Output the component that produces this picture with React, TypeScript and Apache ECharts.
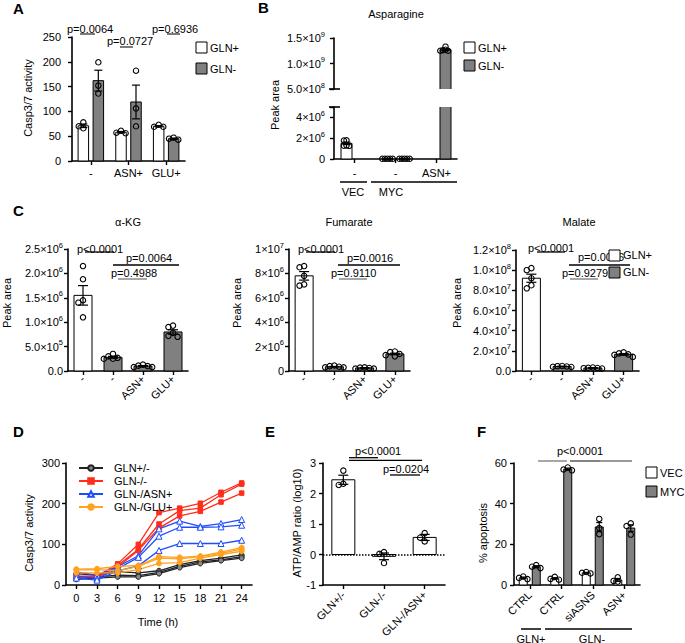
import React, { useEffect, useRef } from "react";
import * as echarts from "echarts";

const FONT = "'Liberation Sans', Arial, Helvetica, sans-serif";
const GREY = "#808080";
const WHITE = "#ffffff";

// ---------- Panel A ----------
const aCategories = ["-", "ASN+", "GLU+"];
const aGlnPlusMean = [71, 58, 70];
const aGlnPlusSem = [3.5, 1.5, 1.3];
const aGlnPlusDots = [[78, 70, 66], [61, 57, 56], [73, 69, 69]];
const aGlnMinusMean = [162, 119, 45];
const aGlnMinusSem = [21, 34, 1.3];
const aGlnMinusDots = [[199, 152, 136], [182, 106, 70], [47, 45, 43]];

// ---------- Panel B ----------
const bCategories = ["-", "-", "ASN+"];
const bGlnPlusMean = [1.5e6, 0.02e6, null];
const bGlnPlusSem = [0.12e6, 0.004e6, null];
const bGlnPlusDots = [[1.8e6, 1.78e6, 1.3e6, 1.25e6, 1.27e6], [0.02e6, 0.02e6, 0.02e6, 0.02e6, 0.02e6], []];
const bGlnMinusMean = [null, 0.02e6, 1.27e9];
const bGlnMinusSem = [null, 0.004e6, 0.015e9];
const bGlnMinusDots = [[], [0.02e6, 0.02e6, 0.02e6, 0.02e6, 0.02e6], [1.33e9, 1.27e9, 1.26e9, 1.25e9, 1.25e9]];

// ---------- Panel C ----------
const cCategories = ["-", "-", "ASN+", "GLU+"];
const cGroups = ["GLN+", "GLN-", "GLN-", "GLN-"];
const akgMean = [1.55e6, 0.28e6, 0.1e6, 0.8e6];
const akgSem = [0.2e6, 0.02e6, 0.012e6, 0.045e6];
const akgDots = [
  [2.15e6, 1.88e6, 1.45e6, 1.4e6, 1.1e6],
  [0.35e6, 0.3e6, 0.27e6, 0.25e6, 0.25e6],
  [0.13e6, 0.11e6, 0.1e6, 0.08e6, 0.08e6],
  [0.93e6, 0.9e6, 0.78e6, 0.72e6, 0.7e6],
];
const fumMean = [7.8e6, 0.35e6, 0.25e6, 1.4e6];
const fumSem = [0.35e6, 0.025e6, 0.025e6, 0.06e6];
const fumDots = [
  [8.6e6, 8.5e6, 7.8e6, 7.1e6, 7.0e6],
  [0.45e6, 0.4e6, 0.35e6, 0.3e6, 0.3e6],
  [0.3e6, 0.28e6, 0.25e6, 0.2e6, 0.2e6],
  [1.6e6, 1.55e6, 1.4e6, 1.3e6, 1.2e6],
];
const malMean = [9.2e7, 0.45e7, 0.3e7, 1.65e7];
const malSem = [0.4e7, 0.03e7, 0.03e7, 0.08e7];
const malDots = [
  [10.2e7, 10.0e7, 9.2e7, 8.5e7, 8.2e7],
  [0.5e7, 0.48e7, 0.45e7, 0.42e7, 0.4e7],
  [0.35e7, 0.32e7, 0.3e7, 0.28e7, 0.25e7],
  [1.85e7, 1.75e7, 1.65e7, 1.6e7, 1.4e7],
];

// ---------- Panel D ----------
const dTimes = ["0", "3", "6", "9", "12", "15", "18", "21", "24"];
const dNames = ["GLN+/-", "GLN-/-", "GLN-/ASN+", "GLN-/GLU+"];
const dGlnPlusMinus = [
  [28, 24, 33, 30, 35, 50, 60, 66, 74],
  [18, 20, 24, 23, 31, 46, 57, 62, 70],
  [14, 17, 20, 20, 28, 43, 53, 60, 66],
];
const dGlnMinusMinus = [
  [22, 22, 52, 100, 178, 189, 201, 228, 251],
  [20, 20, 48, 88, 150, 183, 189, 222, 248],
  [18, 19, 44, 85, 140, 170, 181, 204, 226],
];
const dGlnMinusAsn = [
  [32, 24, 45, 72, 138, 157, 144, 151, 161],
  [22, 16, 40, 68, 120, 142, 142, 143, 147],
  [17, 12, 35, 47, 85, 102, 102, 102, 110],
];
const dGlnMinusGlu = [
  [39, 40, 46, 48, 70, 68, 71, 81, 92],
  [37, 38, 35, 46, 66, 64, 70, 78, 88],
  [30, 30, 30, 38, 53, 55, 66, 75, 83],
];

// ---------- Panel E ----------
const eCategories = ["GLN+/-", "GLN-/-", "GLN-/ASN+"];
const eMean = [2.45, -0.06, 0.56];
const eSem = [0.15, 0.11, 0.1];
const eDots = [[2.75, 2.32, 2.28], [0.08, 0.02, -0.28], [0.7, 0.55, 0.43]];

// ---------- Panel F ----------
const fCategories = ["CTRL", "CTRL", "siASNS", "ASN+"];
const fVecMean = [3.5, 3.2, 6.0, 2.5];
const fVecSem = [0.4, 0.4, 0.2, 0.7];
const fVecDots = [[4.2, 3.5, 2.9], [4.0, 3.0, 2.6], [6.4, 6.0, 5.7], [3.8, 2.0, 1.7]];
const fMycMean = [9.0, 57.0, 28.5, 28.0];
const fMycSem = [0.5, 0.5, 2.2, 1.6];
const fMycDots = [[9.8, 9.0, 8.3], [57.8, 56.8, 56.4], [32.5, 28.0, 25.0], [30.3, 29.0, 24.8]];

// ---------- helpers ----------
function sci(v: number, digits: number, zero: string) {
  if (v === 0) return zero;
  const e = Math.floor(Math.log10(v) + 1e-9);
  const m = v / Math.pow(10, e);
  return `{b|${m.toFixed(digits)}×10}{s|${e}}`;
}
const richSci = {
  b: { fontSize: 11, lineHeight: 16, color: "#000", fontFamily: FONT },
  s: { fontSize: 7.5, lineHeight: 9, verticalAlign: "top", color: "#000", fontFamily: FONT },
};

function barSeries(name: string, gi: number, means: any[], sems: any[], dots: number[][], colors: string[], cfg: any) {
  const items: any[] = [];
  for (let i = 0; i < means.length; i++) {
    if (means[i] === null || means[i] === undefined) continue;
    items.push({ cat: i, mean: means[i], sem: sems[i] || 0, dots: dots[i] || [], color: colors[i] });
  }
  return {
    type: "custom",
    name,
    xAxisIndex: gi,
    yAxisIndex: gi,
    silent: true,
    z: 3,
    data: items.map((it) => [it.cat, it.mean, it.sem]),
    renderItem: (params: any, api: any) => {
      const it = items[params.dataIndex];
      const cs = params.coordSys;
      const top = cs.y;
      const bot = cs.y + cs.height;
      const clamp = (y: number) => Math.max(top, Math.min(bot, y));
      const inR = (y: number) => y >= top - 0.5 && y <= bot + 0.5;
      const base = api.coord([it.cat, 0]);
      const cx = base[0] + cfg.offset;
      const hw = cfg.width / 2;
      const ybRaw = base[1];
      const ymRaw = api.coord([it.cat, it.mean])[1];
      const yb = clamp(ybRaw);
      const ym = clamp(ymRaw);
      const children: any[] = [];
      const ln = (x1: number, y1: number, x2: number, y2: number, w = 1) => ({
        type: "line",
        shape: { x1, y1, x2, y2 },
        style: { stroke: "#000", lineWidth: w },
      });
      if (Math.abs(yb - ym) > 0.2 || inR(ymRaw)) {
        const y1 = Math.min(yb, ym);
        const y2 = Math.max(yb, ym);
        children.push({
          type: "rect",
          shape: { x: cx - hw, y: y1, width: cfg.width, height: y2 - y1 },
          style: { fill: it.color },
        });
        children.push(ln(cx - hw, y1, cx - hw, y2));
        children.push(ln(cx + hw, y1, cx + hw, y2));
        if (inR(ymRaw)) children.push(ln(cx - hw, ym, cx + hw, ym));
        if (inR(ybRaw)) children.push(ln(cx - hw, yb, cx + hw, yb));
      }
      if (it.sem > 0) {
        const yHi = api.coord([it.cat, it.mean + it.sem])[1];
        const yLo = api.coord([it.cat, it.mean - it.sem])[1];
        if (yHi >= top - 1 && yLo <= bot + 1) {
          const c = cfg.cap / 2;
          children.push(ln(cx, yHi, cx, yLo, 1.2));
          children.push(ln(cx - c, yHi, cx + c, yHi, 1.2));
          children.push(ln(cx - c, yLo, cx + c, yLo, 1.2));
        }
      }
      const r = 2.7;
      const placed: number[][] = [];
      const order = it.dots.map((_: number, i: number) => i).sort((a: number, b: number) => it.dots[b] - it.dots[a]);
      for (const i of order) {
        const y = api.coord([it.cat, it.dots[i]])[1];
        if (y < top - 4 || y > bot + 4) continue;
        let x = cx;
        for (let k = 0; k < 14; k++) {
          const m = k === 0 ? 0 : k % 2 === 1 ? -Math.ceil(k / 2) : Math.ceil(k / 2);
          const cand = cx + m * cfg.swarm;
          if (placed.every((p) => Math.hypot(p[0] - cand, p[1] - y) >= cfg.swarm - 0.01)) {
            x = cand;
            break;
          }
        }
        placed.push([x, y]);
        children.push({
          type: "circle",
          shape: { cx: x, cy: y, r },
          style: { fill: "rgba(255,255,255,0)", stroke: "#000", lineWidth: 1.1 },
        });
      }
      return { type: "group", children };
    },
  };
}

const axisLine = { show: true, onZero: false, lineStyle: { color: "#000", width: 1.6 } };
const axisTick = { show: true, length: 4, lineStyle: { color: "#000", width: 1.4 } };

function xCat(gi: number, data: string[], extra: any = {}) {
  return {
    type: "category",
    gridIndex: gi,
    data,
    axisLine,
    axisTick: { ...axisTick, alignWithLabel: true },
    axisLabel: { color: "#000", fontSize: 11, fontFamily: FONT, margin: extra.margin ?? 6, rotate: extra.rotate ?? 0, interval: 0 },
    splitLine: { show: false },
    boundaryGap: true,
    show: extra.show ?? true,
  };
}
function yVal(gi: number, min: number, max: number, interval: number, margin: number, formatter?: any) {
  return {
    type: "value",
    gridIndex: gi,
    min,
    max,
    interval,
    axisLine,
    axisTick,
    axisLabel: { color: "#000", fontSize: 11, fontFamily: FONT, margin, formatter, rich: richSci },
    splitLine: { show: false },
  };
}

const T = (x: number, y: number, text: string, o: any = {}) => ({
  type: "text",
  x,
  y,
  rotation: o.rot || 0,
  silent: true,
  z: 10,
  style: {
    text,
    fill: "#000",
    fontSize: o.size || 11,
    fontFamily: FONT,
    fontWeight: o.bold ? "bold" : "normal",
    align: o.align || "left",
    verticalAlign: "middle",
  },
});
const L = (x1: number, y1: number, x2: number, y2: number, color = "#000", w = 1.3) => ({
  type: "line",
  silent: true,
  z: 10,
  shape: { x1, y1, x2, y2 },
  style: { stroke: color, lineWidth: w },
});
const R = (x: number, y: number, fill: string) => ({
  type: "rect",
  silent: true,
  z: 10,
  shape: { x, y, width: 11, height: 11 },
  style: { fill, stroke: "#000", lineWidth: 1 },
});

const SIG_DARK = "#333";
const SIG_GREY = "#777";

export default function App() {
  const ref = useRef<HTMLDivElement>(null);
  useEffect(() => {
    if (!ref.current) return;
    const chart = echarts.init(ref.current, undefined, { renderer: "svg" });
    const cColors = cGroups.map((g) => (g === "GLN+" ? WHITE : GREY));
    const dStyles = [
      { data: dGlnPlusMinus, color: "#222", symbol: "circle", size: 5, fill: "#888" },
      { data: dGlnMinusMinus, color: "#ff2d1a", symbol: "rect", size: 4.5, fill: "#ff2d1a" },
      { data: dGlnMinusAsn, color: "#1f4bff", symbol: "triangle", size: 6, fill: "#ffffff" },
      { data: dGlnMinusGlu, color: "#ffa21f", symbol: "circle", size: 5, fill: "#ffa21f" },
    ];
    const dSeries: any[] = [];
    dStyles.forEach((s, gi) => {
      s.data.forEach((row) => {
        dSeries.push({
          type: "line",
          name: dNames[gi],
          xAxisIndex: 6,
          yAxisIndex: 6,
          data: row,
          symbol: s.symbol,
          symbolSize: s.size,
          showSymbol: true,
          lineStyle: { color: s.color, width: 1.3 },
          itemStyle: { color: s.fill, borderColor: s.color, borderWidth: 1 },
          silent: true,
          z: 2,
        });
      });
    });

    const option: any = {
      animation: false,
      backgroundColor: "#ffffff",
      textStyle: { fontFamily: FONT },
      grid: [
        { left: 72, top: 37, width: 113, height: 124 },
        { left: 334, top: 38, width: 123, height: 51 },
        { left: 334, top: 107, width: 123, height: 52 },
        { left: 68, top: 249, width: 120, height: 122 },
        { left: 289, top: 249, width: 121, height: 122 },
        { left: 516, top: 250, width: 123, height: 121 },
        { left: 66, top: 463, width: 186, height: 122 },
        { left: 323, top: 463, width: 122, height: 122 },
        { left: 514, top: 463, width: 126, height: 122 },
      ],
      xAxis: [
        xCat(0, aCategories, { margin: 6 }),
        xCat(1, bCategories, { show: false }),
        xCat(2, bCategories, { margin: 8 }),
        xCat(3, cCategories, { rotate: 45, margin: 6 }),
        xCat(4, cCategories, { rotate: 45, margin: 6 }),
        xCat(5, cCategories, { rotate: 45, margin: 6 }),
        xCat(6, dTimes, { margin: 7 }),
        xCat(7, eCategories, { rotate: 45, margin: 8 }),
        xCat(8, fCategories, { rotate: 45, margin: 8 }),
      ],
      yAxis: [
        yVal(0, 0, 250, 50, 11),
        yVal(1, 5e8, 1.5e9, 5e8, 9, (v: number) => sci(v, 1, "0")),
        yVal(2, 0, 5e6, 2e6, 9, (v: number) => (v === 0 ? "0" : v % 2e6 === 0 ? sci(v, 0, "0") : "")),
        yVal(3, 0, 2.5e6, 5e5, 5, (v: number) => sci(v, 1, "0.0")),
        yVal(4, 0, 1e7, 2e6, 5, (v: number) => sci(v, 0, "0")),
        yVal(5, 0, 1.2e8, 2e7, 5, (v: number) => sci(v, 1, "0.0")),
        yVal(6, 0, 300, 100, 6),
        yVal(7, -1, 3, 1, 7),
        yVal(8, 0, 60, 20, 7),
      ],
      legend: [
        {
          data: dNames,
          orient: "vertical",
          left: 73,
          top: 457,
          itemWidth: 24,
          itemHeight: 7,
          itemGap: 1,
          textStyle: { fontSize: 11, fontFamily: FONT, color: "#000", lineHeight: 12, padding: [0, 0, 0, 6] },
          selectedMode: false,
        },
      ],
      series: [
        barSeries("GLN+", 0, aGlnPlusMean, aGlnPlusSem, aGlnPlusDots, [WHITE, WHITE, WHITE], { offset: -7.5, width: 10.5, cap: 8, swarm: 4.6 }),
        barSeries("GLN-", 0, aGlnMinusMean, aGlnMinusSem, aGlnMinusDots, [GREY, GREY, GREY], { offset: 7.5, width: 10.5, cap: 8, swarm: 4.6 }),
        barSeries("GLN+", 1, bGlnPlusMean, bGlnPlusSem, bGlnPlusDots, [WHITE, WHITE, WHITE], { offset: -8, width: 11, cap: 8, swarm: 2.6 }),
        barSeries("GLN-", 1, bGlnMinusMean, bGlnMinusSem, bGlnMinusDots, [GREY, GREY, GREY], { offset: 9, width: 11, cap: 8, swarm: 2.6 }),
        barSeries("GLN+", 2, bGlnPlusMean, bGlnPlusSem, bGlnPlusDots, [WHITE, WHITE, WHITE], { offset: -8, width: 11, cap: 8, swarm: 2.6 }),
        barSeries("GLN-", 2, bGlnMinusMean, bGlnMinusSem, bGlnMinusDots, [GREY, GREY, GREY], { offset: 9, width: 11, cap: 8, swarm: 2.6 }),
        barSeries("α-KG", 3, akgMean, akgSem, akgDots, cColors, { offset: 0, width: 18, cap: 10, swarm: 4.6 }),
        barSeries("Fumarate", 4, fumMean, fumSem, fumDots, cColors, { offset: 0, width: 18, cap: 10, swarm: 4.6 }),
        barSeries("Malate", 5, malMean, malSem, malDots, cColors, { offset: 0, width: 18, cap: 10, swarm: 4.6 }),
        ...dSeries,
        barSeries("ATP/AMP", 7, eMean, eSem, eDots, [WHITE, WHITE, WHITE], { offset: 0, width: 23, cap: 10, swarm: 4.6 }),
        {
          type: "line",
          name: "zero",
          xAxisIndex: 7,
          yAxisIndex: 7,
          data: [],
          silent: true,
          markLine: {
            silent: true,
            symbol: ["none", "none"],
            label: { show: false },
            lineStyle: { type: "dotted", color: "#000", width: 1.5 },
            data: [{ yAxis: 0 }],
          },
        },
        barSeries("VEC", 8, fVecMean, fVecSem, fVecDots, [WHITE, WHITE, WHITE, WHITE], { offset: -6.5, width: 8, cap: 6, swarm: 4.2 }),
        barSeries("MYC", 8, fMycMean, fMycSem, fMycDots, [GREY, GREY, GREY, GREY], { offset: 6.5, width: 8, cap: 6, swarm: 4.2 }),
      ],
      graphic: [
        // panel letters
        T(13, 8, "A", { size: 15, bold: true }),
        T(258, 7, "B", { size: 15, bold: true }),
        T(13, 210, "C", { size: 15, bold: true }),
        T(13, 431, "D", { size: 15, bold: true }),
        T(265, 431, "E", { size: 15, bold: true }),
        T(477, 431, "F", { size: 15, bold: true }),
        // titles
        T(396, 14, "Asparagine", { align: "center" }),
        T(128, 222, "α-KG", { align: "center" }),
        T(349, 222, "Fumarate", { align: "center" }),
        T(579, 222, "Malate", { align: "center" }),
        // y axis titles
        T(28, 98, "Casp3/7 activity", { rot: Math.PI / 2, align: "center" }),
        T(275, 105, "Peak area", { rot: Math.PI / 2, align: "center" }),
        T(7, 303, "Peak area", { rot: Math.PI / 2, align: "center" }),
        T(237, 303, "Peak area", { rot: Math.PI / 2, align: "center" }),
        T(457, 303, "Peak area", { rot: Math.PI / 2, align: "center" }),
        T(29, 533, "Casp3/7 activity", { rot: Math.PI / 2, align: "center" }),
        T(297, 523, "ATP/AMP ratio (log10)", { rot: Math.PI / 2, align: "center" }),
        T(483, 533, "% apoptosis", { rot: Math.PI / 2, align: "center" }),
        T(158, 622, "Time (h)", { align: "center" }),
        // legends
        R(196, 42, WHITE), R(196, 63, GREY),
        T(210, 47.5, "GLN+"), T(210, 68.5, "GLN-"),
        R(464, 42, WHITE), R(464, 60, GREY),
        T(478, 47.5, "GLN+"), T(478, 65.5, "GLN-"),
        // B break marks and group lines
        L(329, 89, 340, 89, "#000", 1.6),
        L(329, 107, 340, 107, "#000", 1.6),
        L(340, 182, 367, 182, "#000", 1.5),
        L(371, 182, 457, 182, "#000", 1.5),
        T(353, 192, "VEC", { align: "center" }),
        T(391, 192, "MYC", { align: "center" }),
        // A significance
        L(80, 34, 95, 34, SIG_DARK), T(67, 29, "p=0.0064"),
        L(120, 47, 133, 47, SIG_DARK), T(107, 41, "p=0.0727"),
        L(167, 34, 180, 34, SIG_DARK), T(152, 29, "p=0.6936"),
        // C α-KG
        L(85, 252, 114, 252), T(77, 249, "p<0.0001"),
        L(113, 265, 179, 265), T(126, 257.5, "p=0.0064"),
        L(118, 279, 147, 279, SIG_GREY), T(111, 273, "p=0.4988"),
        // C Fumarate
        L(306, 252, 335, 252), T(298, 249, "p<0.0001"),
        L(338, 265, 400, 265), T(347, 257.5, "p=0.0016"),
        L(339, 279, 367, 279, SIG_GREY), T(331, 273, "p=0.9110"),
        // C Malate
        L(537, 252, 565, 252), T(528, 247.5, "p<0.0001"),
        L(569, 265, 630, 265), T(578, 257, "p=0.0016"),
        L(570, 279, 598, 279, SIG_GREY), T(562, 273, "p=0.9279"),
        R(609, 250, WHITE), R(609, 267, GREY),
        T(623, 254.5, "GLN+"), T(623, 271.5, "GLN-"),
        // E significance
        L(349, 457.7, 378, 457.7), L(349, 460.3, 422, 460.3),
        T(355, 451, "p<0.0001"),
        L(390, 475, 420, 475), T(383, 469, "p=0.0204"),
        // F significance, legend and groups
        L(538, 461, 567, 461, SIG_GREY), L(570, 461, 600, 461, SIG_GREY), L(570, 461, 632, 461, SIG_GREY),
        T(557, 451, "p<0.0001"),
        R(646, 467, WHITE), R(646, 486, GREY),
        T(660, 473, "VEC"), T(660, 491.5, "MYC"),
        L(521, 629, 541, 629, "#000", 1.5),
        L(545, 629, 632, 629, "#000", 1.5),
        T(531, 638.5, "GLN+", { align: "center" }),
        T(592, 638.5, "GLN-", { align: "center" }),
      ],
    };
    chart.setOption(option);
    return () => chart.dispose();
  }, []);
  return (
    <div
      ref={ref}
      style={{ position: "fixed", left: 0, top: 0, width: 685, height: 643, background: "#fff" }}
    />
  );
}
